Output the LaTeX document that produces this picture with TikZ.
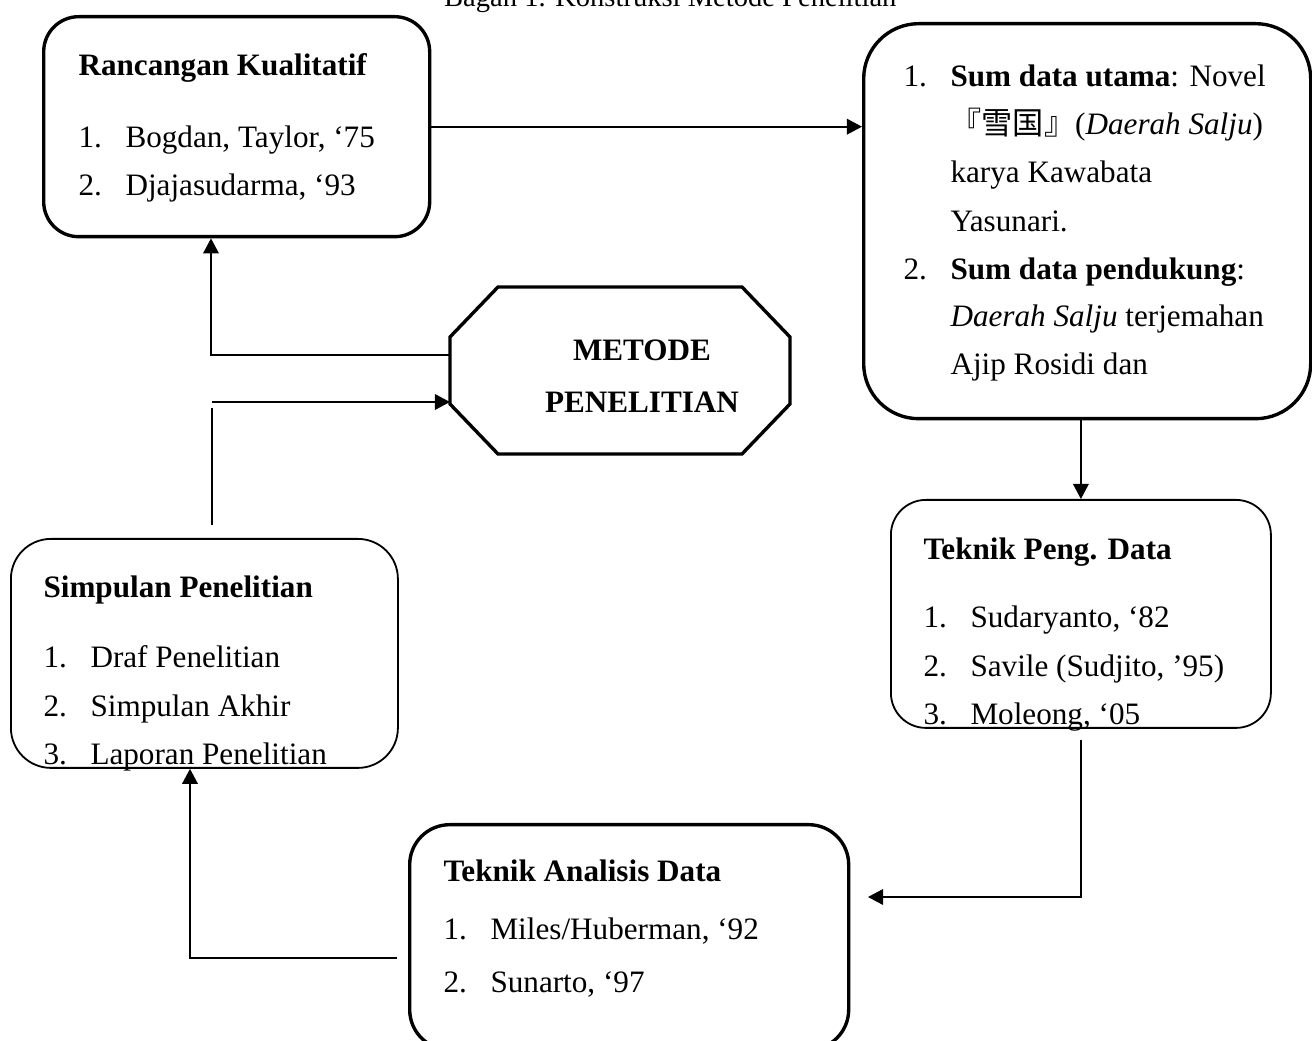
\documentclass[tikz,border=0pt]{standalone}
\usepackage{fontspec}
\setmainfont{Liberation Serif}
\newfontfamily\cjk{Noto Sans CJK JP}
\usetikzlibrary{arrows.meta}
\newcommand{\pxu}{0.385pt}
\newcommand{\nomor}[1]{\makebox[18.1pt][l]{#1}}

\begin{document}
\begin{tikzpicture}[x=\pxu, y=-\pxu,
  font=\fontsize{12}{14}\selectfont,
  kotaktebal/.style={draw, line width=1.3pt, inner sep=0pt, anchor=north west},
  kotaktipis/.style={draw, line width=0.7pt, inner sep=0pt, anchor=north west},
  teks/.style={anchor=base west, inner sep=0pt},
  panah/.style={line width=0.65pt, -{Triangle[length=5.8pt, width=6pt]}}]
  \useasboundingbox (0,0) rectangle (1312,1041);
  % judul
  \node[anchor=base east, inner sep=0pt, font=\fontsize{11}{13}\selectfont] (Judul) at (897,7) {Bagan 1. Konstruksi Metode Penelitian};
  % kotak-kotak
  \node[kotaktebal, rounded corners=35*\pxu, minimum width=386*\pxu, minimum height=220*\pxu] (Rancangan) at (42,15) {};
  \node[kotaktebal, rounded corners=55*\pxu, minimum width=447*\pxu, minimum height=395*\pxu] (Sumber) at (862,22) {};
  \node[kotaktipis, rounded corners=35*\pxu, minimum width=380*\pxu, minimum height=228*\pxu] (Pengumpulan) at (890,499) {};
  \node[kotaktipis, rounded corners=40*\pxu, minimum width=387*\pxu, minimum height=229*\pxu] (Simpulan) at (10,538) {};
  \node[kotaktebal, rounded corners=40*\pxu, minimum width=439*\pxu, minimum height=225*\pxu] (Analisis) at (408,823) {};
  \node[inner sep=0pt, outer sep=0pt, minimum width=340*\pxu, minimum height=167*\pxu] (Metode) at (620,370.5) {};
  \draw[line width=1.3pt] ([xshift=48*\pxu]Metode.north west) -- ([xshift=-48*\pxu]Metode.north east)
       -- ([yshift=-50*\pxu]Metode.north east) -- ([yshift=50*\pxu]Metode.south east)
       -- ([xshift=-48*\pxu]Metode.south east) -- ([xshift=48*\pxu]Metode.south west)
       -- ([yshift=50*\pxu]Metode.south west) -- ([yshift=-50*\pxu]Metode.north west) -- cycle;
  % isi
  \node[anchor=base, inner sep=0pt] (MetodeSatu) at (642,361) {\textbf{METODE}};
  \node[anchor=base, inner sep=0pt] (MetodeDua) at (642,413) {\textbf{PENELITIAN}};
  \node[teks] (RancanganJudul) at (78,76) {\textbf{Rancangan Kualitatif}};
  \node[teks] (RancanganSatu) at (78,148) {\nomor{1.}Bogdan, Taylor, ‘75};
  \node[teks] (RancanganDua) at (78,196) {\nomor{2.}Djajasudarma, ‘93};
  \node[teks] (SumberSatu) at (903,87) {\nomor{1.}\textbf{Sum data utama}: Novel};
  \node[teks] (SumberDua) at (950,135) {{\cjk 『雪国』}(\textit{Daerah Salju})};
  \node[teks] (SumberTiga) at (950,183) {karya Kawabata};
  \node[teks] (SumberEmpat) at (950,232) {Yasunari.};
  \node[teks] (SumberLima) at (903,280) {\nomor{2.}\textbf{Sum data pendukung}:};
  \node[teks] (SumberEnam) at (950,327) {\textit{Daerah Salju} terjemahan};
  \node[teks] (SumberTujuh) at (950,375) {Ajip Rosidi dan};
  \node[teks] (PengumpulanJudul) at (923,560) {\textbf{Teknik Peng. Data}};
  \node[teks] (PengumpulanSatu) at (923,628) {\nomor{1.}Sudaryanto, ‘82};
  \node[teks] (PengumpulanDua) at (923,677) {\nomor{2.}Savile (Sudjito, ’95)};
  \node[teks] (PengumpulanTiga) at (923,725) {\nomor{3.}Moleong, ‘05};
  \node[teks] (SimpulanJudul) at (43,598) {\textbf{Simpulan Penelitian}};
  \node[teks] (SimpulanSatu) at (43,668) {\nomor{1.}Draf Penelitian};
  \node[teks] (SimpulanDua) at (43,717) {\nomor{2.}Simpulan Akhir};
  \node[teks] (SimpulanTiga) at (43,765) {\nomor{3.}Laporan Penelitian};
  \node[teks] (AnalisisJudul) at (443,882) {\textbf{Teknik Analisis Data}};
  \node[teks] (AnalisisSatu) at (443,940) {\nomor{1.}Miles/Huberman, ‘92};
  \node[teks] (AnalisisDua) at (443,992) {\nomor{2.}Sunarto, ‘97};
  % titik belok
  \coordinate (BelokAtas) at (211,355);
  \coordinate (BelokBawah) at (212,402);
  \coordinate (SimpulanAtas) at (212,525);
  \coordinate (AnalisisKanan) at (868,897);
  \coordinate (AnalisisKiri) at (397,958);
  \coordinate (BelokKiri) at (190,958);
  % panah
  \draw[panah] (Rancangan.east) -- (Rancangan.east -| Sumber.west);
  \draw[panah] (BelokAtas -| Metode.west) -- (BelokAtas) -- (BelokAtas |- Rancangan.south);
  \draw[panah] (BelokBawah) -- (BelokBawah -| Metode.west);
  \draw[line width=0.65pt] ([yshift=-6*\pxu]BelokBawah) -- (SimpulanAtas);
  \draw[panah] (Sumber.south -| Pengumpulan.north) -- (Pengumpulan.north);
  \draw[panah] ([yshift=-11*\pxu]Pengumpulan.south) |- (AnalisisKanan);
  \draw[panah] (AnalisisKiri) -| (BelokKiri |- Simpulan.south);
\end{tikzpicture}
\end{document}
